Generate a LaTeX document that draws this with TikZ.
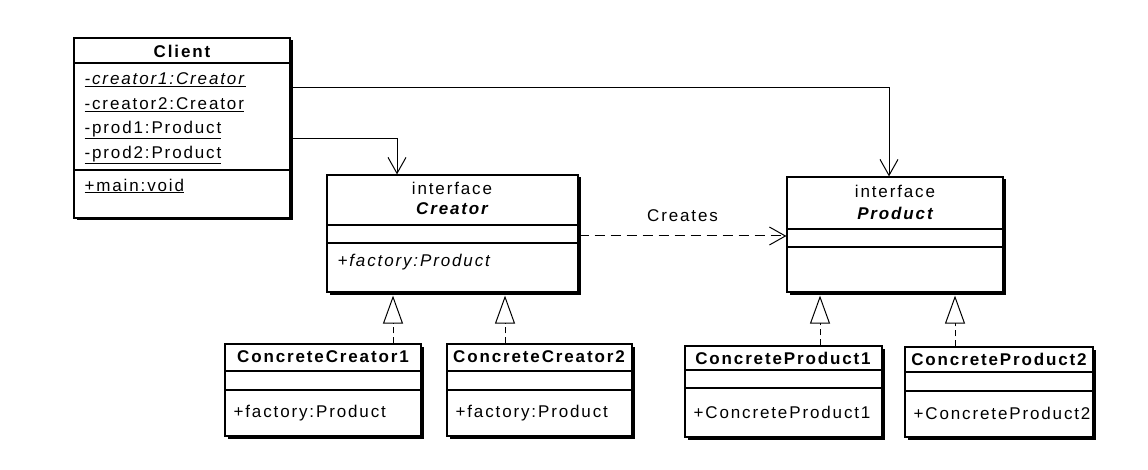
\documentclass[tikz,border=0pt]{standalone}
\usepackage{fontspec}
\setmainfont[LetterSpace=11]{Liberation Sans}
\usetikzlibrary{arrows.meta,shadows,fit}

\newcommand\umlfont{\fontsize{17}{20}\selectfont}

\tikzset{
  umlclass/.style={draw, fill=white, line width=1.2pt, inner sep=0pt,
    drop shadow={shadow xshift=2.5pt, shadow yshift=-2.5pt, fill=black, opacity=1}},
  member/.style={anchor=west, inner sep=0pt, font=\umlfont},
  classname/.style={inner sep=0pt, font=\umlfont\bfseries},
  stereo/.style={inner sep=0pt, font=\umlfont},
  assoc/.style={line width=1pt, -{Straight Barb[length=16pt,width=18pt]}},
  depend/.style={assoc, dash pattern=on 10pt off 6pt},
  realize/.style={line width=1pt, dash pattern=on 6pt off 4pt, shorten >=3pt,
    -{Triangle[open,length=28pt,width=20pt]}},
}

\begin{document}
\begin{tikzpicture}[x=1pt, y=-1pt, line width=1.2pt]
            \useasboundingbox (0,0) rectangle (1148,470);

            % Client
            \node[umlclass, fit={(74,38) (290,218)}] (client) {};
            \draw (client.west |- 0,63) -- (client.east |- 0,63);
            \draw (client.west |- 0,170) -- (client.east |- 0,170);
            \node[classname] (clientname) at (182,51) {Client};
            \node[member] (cr1) at (84,80) {\underline{\textit{-creator1:Creator}}};
            \node[member] (cr2) at (84,105) {\underline{-creator2:Creator}};
            \node[member] (pr1) at (84,130) {\underline{-prod1:Product}};
            \node[member] (pr2) at (84,155) {\underline{-prod2:Product}};
            \node[member] (mainop) at (84,186) {\underline{+main:void}};

            % Creator
            \node[umlclass, fit={(327,175) (578,292)}] (creator) {};
            \draw (creator.west |- 0,225) -- (creator.east |- 0,225);
            \draw (creator.west |- 0,243) -- (creator.east |- 0,243);
            \node[stereo] (creatorstereo) at (452,188) {interface};
            \node[classname, font=\umlfont\bfseries\itshape] (creatorname) at (452,209) {Creator};
            \node[member] (creatorop) at (337,262) {\textit{+factory:Product}};

            % Product
            \node[umlclass, fit={(787,177) (1003,292)}] (product) {};
            \draw (product.west |- 0,229) -- (product.east |- 0,229);
            \draw (product.west |- 0,247) -- (product.east |- 0,247);
            \node[stereo] (productstereo) at (895,191) {interface};
            \node[classname, font=\umlfont\bfseries\itshape] (productname) at (895,213) {Product};

            % concrete creators
            \node[umlclass, fit={(225,344) (421,436)}] (cc1) {};
            \draw (cc1.west |- 0,371) -- (cc1.east |- 0,371);
            \draw (cc1.west |- 0,390) -- (cc1.east |- 0,390);
            \node[classname] (cc1name) at (323,357) {ConcreteCreator1};
            \node[member] (cc1op) at (233,413) {+factory:Product};

            \node[umlclass, fit={(447,344) (632,436)}] (cc2) {};
            \draw (cc2.west |- 0,371) -- (cc2.east |- 0,371);
            \draw (cc2.west |- 0,390) -- (cc2.east |- 0,390);
            \node[classname] (cc2name) at (539,357) {ConcreteCreator2};
            \node[member] (cc2op) at (455,413) {+factory:Product};

            % concrete products
            \node[umlclass, fit={(685,346) (882,437)}] (cp1) {};
            \draw (cp1.west |- 0,370) -- (cp1.east |- 0,370);
            \draw (cp1.west |- 0,388) -- (cp1.east |- 0,388);
            \node[classname] (cp1name) at (783,358) {ConcreteProduct1};
            \node[member] (cp1op) at (693,412) {+ConcreteProduct1};

            \node[umlclass, fit={(905,347) (1093,437)}] (cp2) {};
            \draw (cp2.west |- 0,372) -- (cp2.east |- 0,372);
            \draw (cp2.west |- 0,391) -- (cp2.east |- 0,391);
            \node[classname] (cp2name) at (999,359) {ConcreteProduct2};
            \node[member] (cp2op) at (913,413) {+ConcreteProduct2};

            % associations
            \draw[assoc] (client.east |- 0,88) -| (product.north -| 889,0);
            \draw[assoc] (client.east |- 0,139) -| (creator.north -| 397,0);
            \draw[depend] (creator.east |- 0,236) -- node[midway, above=14pt, inner sep=0pt, font=\umlfont] (creates) {Creates} (product.west |- 0,236);

            % realizations
            \draw[realize] (cc1.north -| 393,0) -- (creator.south -| 393,0);
            \draw[realize] (cc2.north -| 505,0) -- (creator.south -| 505,0);
            \draw[realize] (cp1.north -| 820,0) -- (product.south -| 820,0);
            \draw[realize] (cp2.north -| 955,0) -- (product.south -| 955,0);
\end{tikzpicture}
\end{document}
